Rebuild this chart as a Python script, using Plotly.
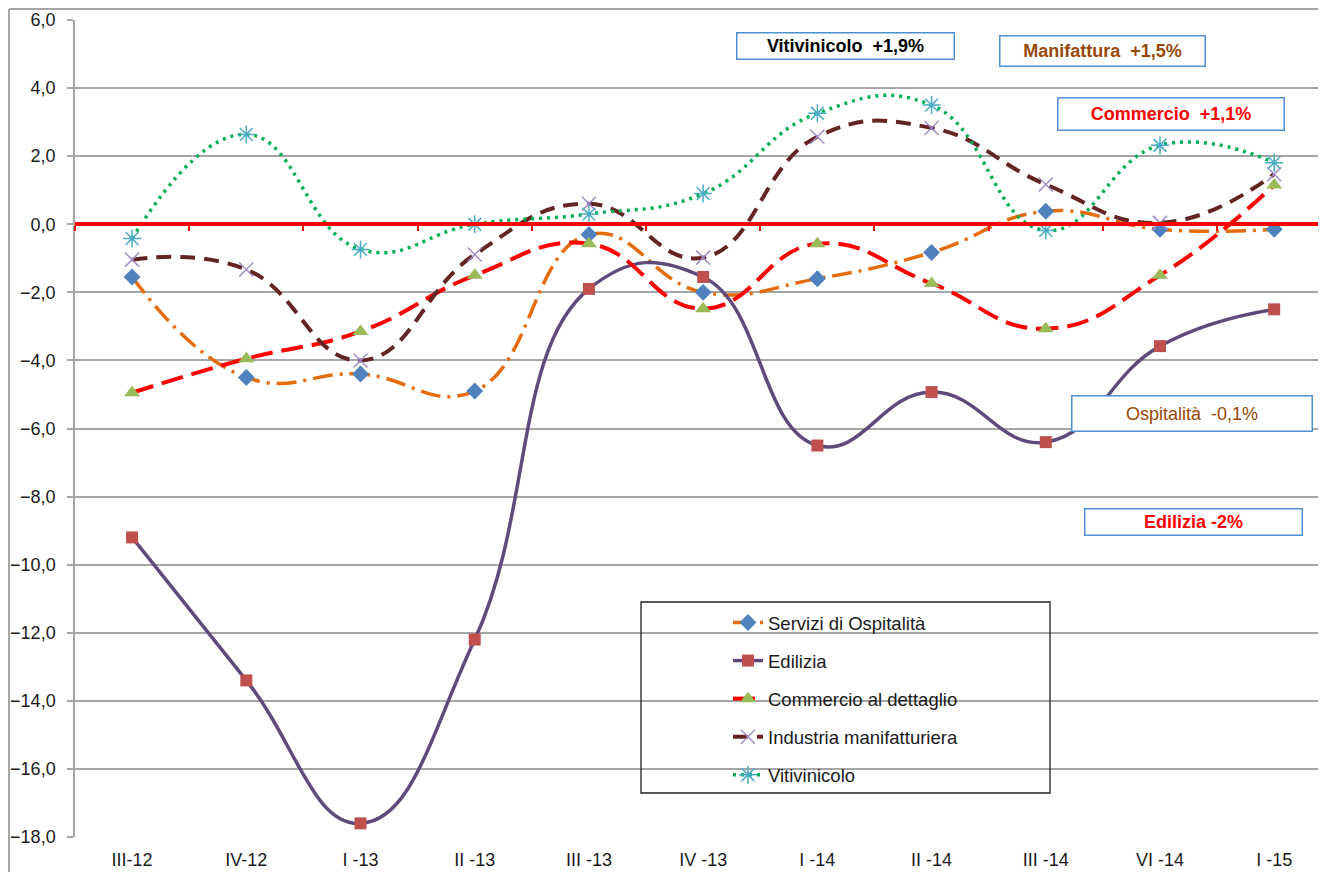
import plotly.graph_objects as go

categories = ["III-12", "IV-12", "I -13", "II -13", "III -13", "IV -13",
              "I -14", "II -14", "III -14", "VI -14", "I -15"]

servizi_ospitalita = [-1.55, -4.5, -4.4, -4.9, -0.3, -2.0, -1.6, -0.83, 0.38, -0.15, -0.15]
edilizia = [-9.2, -13.4, -17.6, -12.2, -1.9, -1.55, -6.5, -4.93, -6.4, -3.58, -2.5]
commercio = [-4.95, -3.95, -3.15, -1.5, -0.57, -2.48, -0.57, -1.74, -3.07, -1.5, 1.15]
industria = [-1.04, -1.33, -4.0, -0.89, 0.6, -0.98, 2.57, 2.83, 1.17, 0.04, 1.47]
vitivinicolo = [-0.42, 2.64, -0.74, 0.0, 0.3, 0.9, 3.26, 3.5, -0.18, 2.32, 1.81]

series_names = ["Servizi di Ospitalità", "Edilizia", "Commercio al dettaglio",
                "Industria manifatturiera", "Vitivinicolo"]

callout_texts = ["Vitivinicolo  +1,9%", "Manifattura  +1,5%", "Commercio  +1,1%",
                 "Ospitalità  -0,1%", "Edilizia -2%"]

y_ticks = [6, 4, 2, 0, -2, -4, -6, -8, -10, -12, -14, -16, -18]

# ---------- geometry ----------
# the page has an 8px body margin; screen px -> figure px = screen - OFF
OFF = 8
W, H = 1326 - OFF, 872 - OFF
SL, SR, ST, SB = 75, 1326, 20, 837          # plot area on screen
ML, MR, MT, MB = SL - OFF, 0, ST - OFF, H - (SB - OFF)
PW, PH = W - ML - MR, H - MT - MB
X0S, XSTEP = 132.2, 114.2                   # screen x of first category, spacing
YMAX, YMIN = 6, -18


def sx(px):          # screen x -> data x
    return (px - X0S) / XSTEP


def sy(py):          # screen y -> data y
    return YMAX - (py - ST) * (YMAX - YMIN) / (SB - ST)


def paper_x(px):     # screen x -> paper
    return (px - SL) / (SR - SL)


def paper_y(py):     # screen y -> paper
    return (SB - py) / (SB - ST)


FONT = "Liberation Sans, Arial, sans-serif"
xr = [-0.5, sx(SR)]
idx = list(range(len(categories)))

fig = go.Figure()

styles = [
    dict(line=dict(color="#E46C0A", width=3.5, dash="20px,7px,3px,7px"),
         marker=dict(symbol="diamond", size=13, color="#4F81BD")),
    dict(line=dict(color="#604A7B", width=3.5),
         marker=dict(symbol="square", size=12, color="#C0504D")),
    dict(line=dict(color="#FF0000", width=4, dash="22px,9px"),
         marker=dict(symbol="triangle-up", size=14, color="#9BBB59")),
    dict(line=dict(color="#632523", width=4, dash="15px,9px"),
         marker=dict(symbol="x-thin-open", size=14, color="#A08CC8",
                     line=dict(color="#A08CC8", width=1.5))),
    dict(line=dict(color="#00B050", width=3.5, dash="3px,5px"),
         marker=dict(symbol="asterisk-open", size=15, color="#4BACC6",
                     line=dict(color="#4BACC6", width=1.5))),
]

for i, (name, vals) in enumerate(zip(series_names,
                                     [servizi_ospitalita, edilizia, commercio,
                                      industria, vitivinicolo])):
    st = styles[i]
    line = dict(st["line"])
    line["shape"] = "spline"
    line["smoothing"] = 1.3
    fig.add_trace(go.Scatter(
        x=idx, y=vals, name=name, mode="lines+markers",
        line=line, marker=st["marker"], legendgroup=f"g{i}",
    ))

# dummy trace to carry the zero-crossing axis
fig.add_trace(go.Scatter(x=idx, y=[None] * len(idx), xaxis="x2",
                         showlegend=False, hoverinfo="skip", mode="lines"))

annots = []
boxes = [
    # (text, x0, x1, y0, y1, color, bold)  -- screen px
    (callout_texts[0], 736, 955, 32, 60, "#000000", True),
    (callout_texts[1], 999, 1206, 35, 67, "#974806", True),
    (callout_texts[2], 1057, 1285, 97, 131, "#FF0000", True),
    (callout_texts[3], 1071, 1313, 395, 432, "#974806", False),
    (callout_texts[4], 1084, 1303, 508, 536, "#FF0000", True),
]
for text, x0, x1, y0, y1, col, bold in boxes:
    annots.append(dict(
        x=sx((x0 + x1) / 2), y=sy((y0 + y1) / 2), xref="x", yref="y",
        text=text, showarrow=False, width=x1 - x0 - 3, height=y1 - y0 - 3,
        bgcolor="white", bordercolor="#4F8FD0", borderwidth=1.5, borderpad=0,
        font=dict(family=FONT, size=18, color=col,
                  weight="bold" if bold else "normal"),
        xanchor="center", yanchor="middle", align="center",
    ))

shapes = [
    # outer chart border (left and top)
    dict(type="line", xref="paper", yref="paper",
         x0=paper_x(9), x1=paper_x(9), y0=paper_y(9), y1=paper_y(900),
         line=dict(color="#A6A6A6", width=2)),
    dict(type="line", xref="paper", yref="paper",
         x0=paper_x(9), x1=paper_x(1400), y0=paper_y(9), y1=paper_y(9),
         line=dict(color="#A6A6A6", width=2)),
    # legend frame
    dict(type="rect", xref="paper", yref="paper",
         x0=paper_x(641), x1=paper_x(1050), y0=paper_y(602), y1=paper_y(793),
         line=dict(color="#202020", width=1.3), fillcolor="rgba(0,0,0,0)"),
]

fig.update_layout(
    width=W, height=H,
    margin=dict(l=ML, r=MR, t=MT, b=MB, pad=0),
    paper_bgcolor="white", plot_bgcolor="white",
    separators=",.",
    font=dict(family=FONT, size=18, color="#1a1a1a"),
    showlegend=True,
    legend=dict(
        x=paper_x(728), y=paper_y(604), xanchor="left", yanchor="top",
        bgcolor="rgba(0,0,0,0)", borderwidth=0,
        font=dict(family=FONT, size=18.5, color="#1a1a1a"),
        traceorder="grouped", tracegroupgap=11,
    ),
    xaxis=dict(
        type="linear", range=xr, tickmode="array", tickvals=idx,
        ticktext=categories, showgrid=False, showline=False, zeroline=False,
        ticks="", ticklabelstandoff=10,
        tickfont=dict(family=FONT, size=18, color="#1a1a1a"),
    ),
    xaxis2=dict(
        type="linear", range=xr, overlaying="x", anchor="free",
        position=(0 - YMIN) / (YMAX - YMIN), side="bottom",
        showgrid=False, zeroline=False, showline=True, linecolor="#FF0000",
        linewidth=4, ticks="outside", ticklen=5, tickwidth=2,
        tickcolor="#FF0000", tickmode="array",
        tickvals=[i - 0.5 for i in idx], showticklabels=False,
    ),
    yaxis=dict(
        range=[YMIN, YMAX], tickmode="array", tickvals=y_ticks,
        tickformat=".1f", showgrid=True, gridcolor="#A6A6A6", gridwidth=1.5,
        showline=True, linecolor="#A6A6A6", linewidth=1.5, zeroline=False,
        ticks="outside", ticklen=6, tickcolor="#A6A6A6", tickwidth=1.5,
        ticklabelstandoff=8,
        tickfont=dict(family=FONT, size=18, color="#1a1a1a"),
    ),
    annotations=annots,
    shapes=shapes,
)

fig.write_html("out.html")
